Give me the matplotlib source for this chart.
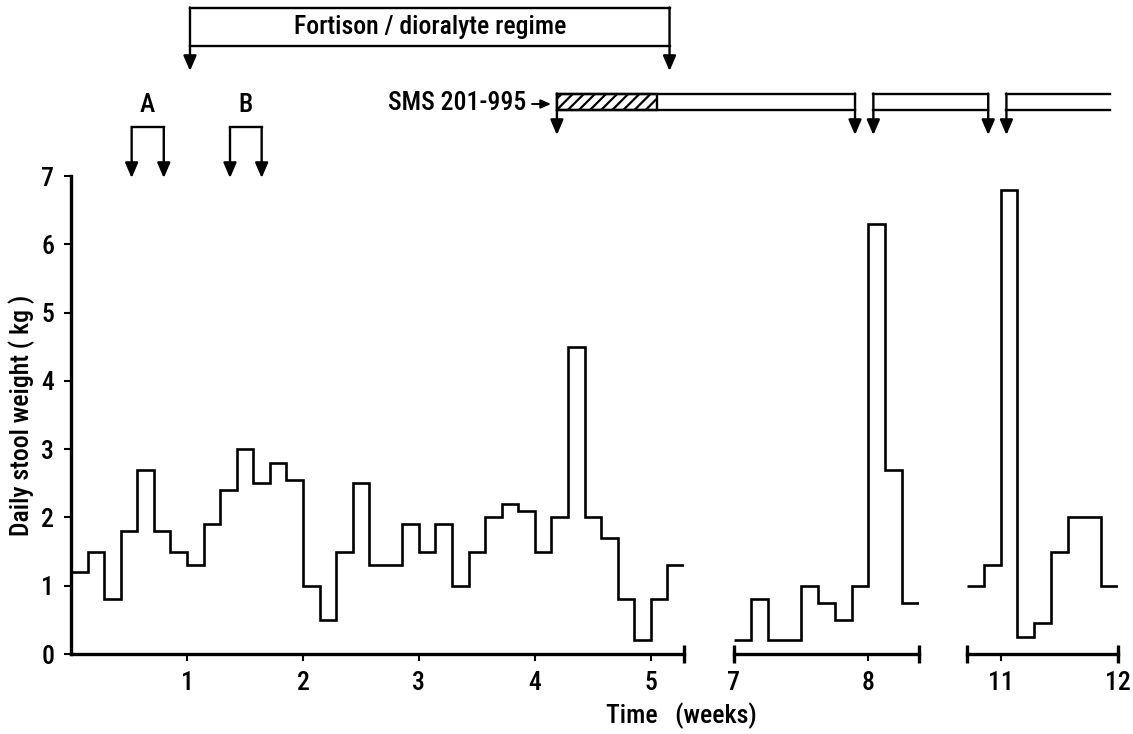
import numpy as np
import matplotlib
matplotlib.use("Agg")
import matplotlib.pyplot as plt
from matplotlib.lines import Line2D
from matplotlib.patches import FancyArrowPatch, Rectangle

plt.rcParams['font.family'] = ['Roboto Condensed', 'DejaVu Sans Condensed', 'Liberation Sans Narrow',
                               'Open Sans Condensed', 'Roboto', 'DejaVu Sans']
plt.rcParams['font.weight'] = 'medium'
plt.rcParams['font.stretch'] = 'condensed'
plt.rcParams['hatch.linewidth'] = 1.6

# ---------------- data (daily stool weight, kg) ----------------
seg1_start_day = 0          # weeks 0 - 5.3
seg1_values = [1.2, 1.5, 0.8, 1.8, 2.7, 1.8, 1.5, 1.3, 1.9, 2.4, 3.0, 2.5, 2.8, 2.55,
               1.0, 0.5, 1.5, 2.5, 1.3, 1.3, 1.9, 1.5, 1.9, 1.0, 1.5, 2.0, 2.2, 2.1,
               1.5, 2.0, 4.5, 2.0, 1.7, 0.8, 0.2, 0.8, 1.3]
seg2_start_day = 48         # weeks 6.86 - 8.43
seg2_values = [0.2, 0.8, 0.2, 0.2, 1.0, 0.75, 0.5, 1.0, 6.3, 2.7, 0.75]
seg3_start_day = 75         # weeks 10.71 - 12
seg3_values = [1.0, 1.3, 6.8, 0.25, 0.45, 1.5, 2.0, 2.0, 1.0]

seg1_ticks = [1, 2, 3, 4, 5]
seg2_ticks = [8]
seg3_ticks = [11, 12]
y_ticks = [0, 1, 2, 3, 4, 5, 6, 7]

# treatment periods (weeks)
fortison_period = (1.026, 5.161)
period_A = (0.523, 0.80)
period_B = (1.371, 1.644)
sms_hatched = (4.19, 5.05)

FIG_W, FIG_H = 1133, 734
fig = plt.figure(figsize=(FIG_W / 100, FIG_H / 100), dpi=100)

bottom = (FIG_H - 654) / FIG_H
height = (654 - 176) / FIG_H
ax1 = fig.add_axes([71 / FIG_W, bottom, 613 / FIG_W, height])
ax2 = fig.add_axes([734 / FIG_W, bottom, 185 / FIG_W, height])
ax3 = fig.add_axes([967 / FIG_W, bottom, 151 / FIG_W, height])

segments = [
    (ax1, seg1_start_day, seg1_values, seg1_ticks),
    (ax2, seg2_start_day, seg2_values, seg2_ticks),
    (ax3, seg3_start_day, seg3_values, seg3_ticks),
]

LW_DATA = 1.9
LW_AX = 2.4
FS = 18.5

for i, (ax, start, vals, ticks) in enumerate(segments):
    edges = (start + np.arange(len(vals) + 1)) / 7.0
    ax.stairs(vals, edges, baseline=None, color='black', lw=LW_DATA)
    x0, x1 = edges[0], edges[-1]
    if i == 1:
        x1 = 8.43
    ax.set_xlim(x0, x1)
    ax.set_ylim(0, 7)
    for s in ['top', 'right']:
        ax.spines[s].set_visible(False)
    ax.spines['bottom'].set_linewidth(LW_AX)
    if i == 0:
        ax.spines['left'].set_linewidth(LW_AX)
        ax.set_yticks(y_ticks)
        ax.set_yticklabels([str(v) for v in y_ticks], fontsize=FS)
        ax.tick_params(axis='y', direction='out', length=5, width=1.5, pad=7)
    else:
        ax.spines['left'].set_visible(False)
        ax.set_yticks([])
    if i == 1:
        ax.set_xticks([x0] + ticks)
        ax.set_xticklabels(['7'] + [str(t) for t in ticks], fontsize=FS)
    else:
        ax.set_xticks(ticks)
        ax.set_xticklabels([str(t) for t in ticks], fontsize=FS)
    ax.tick_params(axis='x', direction='out', length=5, width=1.5, pad=7)
    # end caps of the axis segments
    caps = [x1] if i == 0 else [x0, x1]
    ax.plot(caps, [0] * len(caps), linestyle='none', marker='|', markersize=13,
            mew=LW_AX, color='black', clip_on=False)
    ax.patch.set_alpha(0)

fig.text(22 / FIG_W, 1 - 415 / FIG_H, 'Daily stool weight ( kg )', rotation=90,
         ha='center', va='center', fontsize=FS)
fig.text(681 / FIG_W, 1 - 716 / FIG_H, 'Time   (weeks)', ha='center', va='center', fontsize=FS)


# ---------------- annotations above the plot ----------------
def fx(ax, w):
    d = ax.transData.transform((w, 0))
    return fig.transFigure.inverted().transform(d)[0]


def fy(px):
    return 1 - px / FIG_H


def hline(xa, xb, ypx, lw=1.7):
    fig.add_artist(Line2D([xa, xb], [fy(ypx), fy(ypx)], color='black', lw=lw,
                          transform=fig.transFigure, solid_capstyle='projecting'))


def arrow_down(x, ytop, ytip, lw=1.7):
    fig.add_artist(FancyArrowPatch((x, fy(ytop)), (x, fy(ytip)), transform=fig.transFigure,
                                   arrowstyle='-|>,head_length=0.65,head_width=0.28',
                                   mutation_scale=14, lw=lw, color='black',
                                   shrinkA=0, shrinkB=0))


# Fortison / dioralyte regime
fa, fb = fx(ax1, fortison_period[0]), fx(ax1, fortison_period[1])
hline(fa, fb, 7.5)
hline(fa, fb, 45.5)
arrow_down(fa, 7.5, 71)
arrow_down(fb, 7.5, 71)
fig.text((fa + fb) / 2, fy(27), 'Fortison / dioralyte regime', ha='center', va='center',
         fontsize=FS)

# A and B
for (pa, pb), lab in [(period_A, 'A'), (period_B, 'B')]:
    xa, xb = fx(ax1, pa), fx(ax1, pb)
    hline(xa, xb, 127)
    arrow_down(xa, 127, 178)
    arrow_down(xb, 127, 178)
    fig.text((xa + xb) / 2, fy(105), lab, ha='center', va='center', fontsize=FS)

# SMS 201-995 bars
TOP, BOT, TIP = 93.5, 109.5, 135
bars = [
    (fx(ax1, sms_hatched[0]), fx(ax2, 7.886), True, True),
    (fx(ax2, 8.042), fx(ax3, 10.895), True, True),
    (fx(ax3, 11.05), fx(ax3, 11.93), True, False),
]
for xa, xb, left_arrow, right_arrow in bars:
    hline(xa, xb, TOP)
    hline(xa, xb, BOT)
    if left_arrow:
        arrow_down(xa, TOP, TIP)
    if right_arrow:
        arrow_down(xb, TOP, TIP)

ha_, hb_ = fx(ax1, sms_hatched[0]), fx(ax1, sms_hatched[1])
fig.add_artist(Rectangle((ha_, fy(BOT)), hb_ - ha_, fy(TOP) - fy(BOT), transform=fig.transFigure,
                         fill=False, hatch='///', lw=1.7, edgecolor='black'))

fig.text(526 / FIG_W, fy(103), 'SMS 201-995', ha='right', va='center', fontsize=FS)
fig.add_artist(FancyArrowPatch((532 / FIG_W, fy(104)), (551 / FIG_W, fy(104)),
                               transform=fig.transFigure,
                               arrowstyle='-|>,head_length=0.5,head_width=0.22',
                               mutation_scale=12, lw=1.4, color='black',
                               shrinkA=0, shrinkB=0))

fig.savefig('out.png', dpi=100, facecolor='white')
